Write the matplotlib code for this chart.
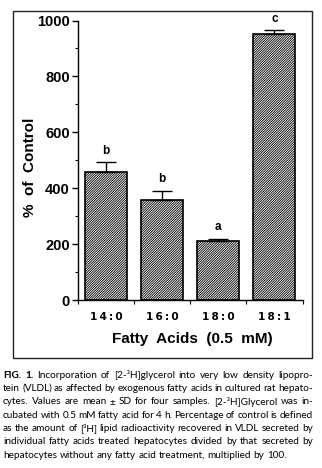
import matplotlib
matplotlib.use("Agg")
import matplotlib.pyplot as plt
from matplotlib.patches import Rectangle
from matplotlib.font_manager import FontProperties
from matplotlib.ticker import MultipleLocator, FixedLocator

# Data
categories = ["14:0", "16:0", "18:0", "18:1"]
means = [458, 357, 212, 950]
sds = [34, 33, 7, 15]
letters = ["b", "b", "a", "c"]
y_ticks = [0, 200, 400, 600, 800, 1000]

caption_lines = [
    "FIG. 1. Incorporation of [2-\u00b3H]glycerol into very low density lipopro-",
    "tein (VLDL) as affected by exogenous fatty acids in cultured rat hepato-",
    "cytes. Values are mean \u00b1 SD for four samples. [2-\u00b3H]Glycerol was in-",
    "cubated with 0.5 mM fatty acid for 4 h. Percentage of control is defined",
    "as the amount of [\u00b3H] lipid radioactivity recovered in VLDL secreted by",
    "individual fatty acids treated hepatocytes divided by that secreted by",
    "hepatocytes without any fatty acid treatment, multiplied by 100.",
]

W, H, DPI = 322, 468, 100
plt.rcParams["hatch.linewidth"] = 0.6
plt.rcParams["hatch.color"] = "#2a2a2a"
bold = ["Liberation Sans", "DejaVu Sans"]

fig = plt.figure(figsize=(W / DPI, H / DPI), dpi=DPI)
fig.patch.set_facecolor("white")

def fx(px):
    return px / W

def fy(py):
    return 1 - py / H

ax = fig.add_axes([fx(78), fy(300), fx(302.5) - fx(78), fy(20.5) - fy(300)])

x = list(range(len(categories)))
ax.bar(x, means, width=0.75, color="white", edgecolor="black",
       linewidth=1.2, hatch="/" * 14, zorder=2)
ax.errorbar(x, means, yerr=[[0] * len(sds), sds], fmt="none", ecolor="black",
            elinewidth=1.0, capsize=7.2, capthick=1.0, zorder=3)
for xi, m, s, lab in zip(x, means, sds, letters):
    ax.text(xi, m + s + 42, lab, ha="center", va="center", fontsize=8.5,
            fontweight="bold", family=bold)

ax.set_xlim(-0.5, len(categories) - 0.5)
ax.set_ylim(0, 1000)
for side in ("top", "right"):
    ax.spines[side].set_visible(False)
for side in ("left", "bottom"):
    ax.spines[side].set_linewidth(1.0)

ax.set_yticks(y_ticks)
ax.yaxis.set_minor_locator(MultipleLocator(100))
ax.tick_params(axis="y", which="major", length=4, width=1, pad=2,
               labelsize=10.5)
ax.tick_params(axis="y", which="minor", length=2.5, width=0.8)
for t in ax.get_yticklabels():
    t.set_fontweight("bold")
    t.set_family(bold)

ax.set_xticks(x)
ax.set_xticklabels(["\u2009".join(c) for c in categories])
ax.xaxis.set_minor_locator(FixedLocator([i - 0.5 for i in range(len(categories) + 1)]))
ax.tick_params(axis="x", which="major", length=0, pad=8.5, labelsize=7.6)
ax.tick_params(axis="x", which="minor", length=3, width=0.8)
for t in ax.get_xticklabels():
    t.set_fontweight("bold")
    t.set_family(["DejaVu Sans"])

fig.text(fx(29.5), fy(167), "%  of  Control", rotation=90, ha="center",
         va="center", fontsize=11, fontweight="bold", family=bold)
fig.text(fx(192.5), fy(339), "Fatty  Acids  (0.5  mM)", ha="center",
         va="center", fontsize=11, fontweight="bold", family=bold)

# Frame around the chart panel
fig.add_artist(Rectangle((fx(13), fy(357.5)), fx(312) - fx(13), fy(11) - fy(357.5),
                         transform=fig.transFigure, fill=False,
                         edgecolor="#222222", linewidth=1.0))

# Justified caption, words measured with the actual renderer
cap_size = 7.2
reg = FontProperties(family="Lato", size=cap_size)
bld = FontProperties(family="Lato", weight="bold", size=cap_size)
renderer = fig.canvas.get_renderer()

left, right = 3.0, 313.0
y0, dy = 375.0, 13.35
probe = fig.text(0, 0, "a a", fontproperties=reg)
probe2 = fig.text(0, 0, "aa", fontproperties=reg)
natural_space = (probe.get_window_extent(renderer).width
                 - probe2.get_window_extent(renderer).width)
probe.remove()
probe2.remove()

for i, line in enumerate(caption_lines):
    words = line.split(" ")
    props = [bld if (i == 0 and j < 2) else reg for j in range(len(words))]
    texts = [fig.text(0, fy(y0 + i * dy), w, fontproperties=p, ha="left",
                      va="center", color="black")
             for w, p in zip(words, props)]
    widths = [t.get_window_extent(renderer).width for t in texts]
    space = natural_space
    last = i == len(caption_lines) - 1
    if not last and len(words) > 1:
        space = max(natural_space * 0.5,
                    (right - left - sum(widths)) / (len(words) - 1))
    cx = left
    for t, wd in zip(texts, widths):
        t.set_x(fx(cx))
        cx += wd + space

fig.savefig("out.png", dpi=DPI, facecolor="white")
